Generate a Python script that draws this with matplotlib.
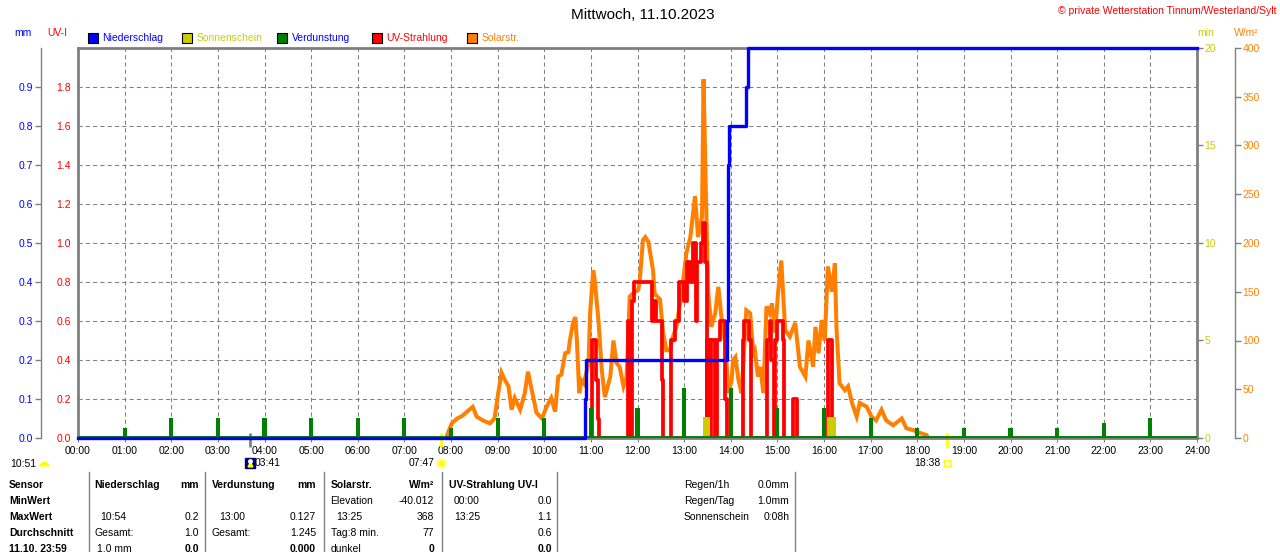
import matplotlib
matplotlib.use('Agg')
import matplotlib.pyplot as plt
from matplotlib.lines import Line2D
from matplotlib.ticker import MultipleLocator

plt.rcParams['font.family'] = ['Liberation Sans', 'DejaVu Sans']


def hrs(s):
    h, m = s.split(':')
    return int(h) + int(m) / 60


# Solarstrahlung in W/m2
solar_times = ['07:54', '07:56', '08:01', '08:08', '08:15', '08:22', '08:28', '08:33', '08:41', '08:50',
               '08:56', '09:00', '09:05', '09:09', '09:14', '09:18', '09:22', '09:29', '09:35', '09:39',
               '09:44', '09:50', '09:57', '10:03', '10:09', '10:14', '10:18', '10:22', '10:27', '10:31',
               '10:33', '10:37', '10:40', '10:42', '10:45', '10:48', '10:51', '10:57', '10:59', '11:03',
               '11:05', '11:10', '11:14', '11:18', '11:25', '11:29', '11:33', '11:37', '11:42', '11:46',
               '11:50', '11:55', '12:01', '12:03', '12:07', '12:10', '12:14', '12:20', '12:22', '12:29',
               '12:33', '12:37', '12:42', '12:44', '12:50', '12:57', '13:03', '13:08', '13:14', '13:18',
               '13:23', '13:25', '13:28', '13:31', '13:35', '13:40', '13:44', '13:48', '13:53', '13:57',
               '14:01', '14:03', '14:06', '14:10', '14:14', '14:20', '14:25', '14:29', '14:31', '14:35',
               '14:38', '14:42', '14:46', '14:50', '14:53', '14:57', '15:01', '15:05', '15:10', '15:16',
               '15:23', '15:29', '15:36', '15:40', '15:46', '15:49', '15:53', '15:57', '16:01', '16:05',
               '16:10', '16:14', '16:16', '16:20', '16:27', '16:31', '16:36', '16:42', '16:46', '16:55',
               '17:01', '17:07', '17:14', '17:20', '17:29', '17:40', '17:46', '17:55', '18:04', '18:12',
               '18:14']
solar_vals = [0, 5, 15, 20, 23, 28, 32, 22, 18, 15,
              20, 42, 67, 60, 53, 29, 41, 29, 46, 68,
              49, 26, 20, 32, 41, 27, 63, 65, 87, 88,
              100, 118, 124, 100, 46, 59, 56, 77, 128, 172,
              162, 118, 70, 42, 63, 100, 77, 73, 53, 63,
              145, 149, 152, 162, 203, 206, 201, 172, 148, 142,
              108, 90, 90, 100, 114, 150, 190, 206, 248, 206,
              227, 368, 251, 149, 114, 128, 155, 124, 97, 46,
              59, 80, 83, 59, 46, 131, 128, 87, 90, 63,
              73, 46, 135, 128, 138, 108, 150, 182, 111, 104,
              118, 73, 63, 100, 73, 114, 87, 121, 100, 176,
              150, 179, 114, 56, 49, 53, 36, 22, 36, 32,
              22, 18, 29, 18, 13, 20, 10, 8, 5, 3,
              0]

# UV-Strahlung (UV-I), stufenweise
uv_times = ['10:55', '11:01', '11:07', '11:09', '11:11',
            '11:48', '11:51', '11:53', '11:56', '12:19', '12:21', '12:24', '12:31', '12:33',
            '12:43', '12:48', '12:54', '13:00', '13:04', '13:08', '13:12', '13:15', '13:17', '13:22',
            '13:24', '13:27', '13:29',
            '13:30', '13:33', '13:35', '13:40', '13:42', '13:46', '13:52', '13:55',
            '14:16', '14:17', '14:23', '14:26',
            '14:47', '14:50', '14:52', '14:56', '14:57', '15:00', '15:07', '15:09',
            '15:20', '15:25', '16:05', '16:10']
uv_vals = [0, 0.5, 0.3, 0.1, 0,
           0.6, 0, 0.7, 0.8, 0.6, 0.7, 0.6, 0.3, 0,
           0.5, 0.6, 0.8, 0.7, 0.9, 0.8, 1.0, 0.6, 0.9, 1.0,
           1.1, 0.9, 0,
           0.5, 0, 0.5, 0, 0.5, 0.6, 0.2, 0,
           0.5, 0.6, 0.5, 0,
           0.5, 0.6, 0.4, 0, 0.5, 0.6, 0.5, 0,
           0.2, 0, 0.5, 0]

# Niederschlag (Tagessumme, mm)
rain_times = ['00:00', '10:52', '10:54', '13:55', '13:56', '13:57', '13:58', '14:20', '14:22', '24:00']
rain_vals = [0.0, 0.1, 0.2, 0.3, 0.5, 0.7, 0.8, 0.9, 1.0, 1.0]

# Verdunstung je Stunde (mm)
evap_hours = list(range(1, 24))
evap_vals = [0.026, 0.051, 0.051, 0.051, 0.051, 0.051, 0.051, 0.026, 0.051, 0.051,
             0.077, 0.077, 0.127, 0.127, 0.077, 0.077, 0.051, 0.026, 0.026, 0.026,
             0.026, 0.038, 0.051]

# Sonnenschein (min)
sun_start = ['13:24', '16:04']
sun_end = ['13:33', '16:15']
sun_vals = [1.1, 1.1]

moon_set = '10:51'
moon_rise = '03:41'
sunrise = '07:47'
sunset = '18:38'

BLUE = '#0000FF'
RED = '#FF0000'
ORANGE = '#FF8000'
GREEN = '#008000'
OLIVE = '#CCCC00'
GRAY = '#808080'

W, H = 1280, 552
fig = plt.figure(figsize=(W / 100, H / 100), dpi=100)


def fx(px):
    return px / W


def fy(py):
    return 1 - py / H


ax = fig.add_axes([fx(78), fy(438), 1119 / W, 390 / H])
ax_uv = ax.twinx()
ax_min = ax.twinx()
ax_mm = ax.twinx()

ax.set_xlim(0, 24)
ax.set_ylim(0, 400)
ax_uv.set_ylim(0, 2)
ax_min.set_ylim(0, 20)
ax_mm.set_ylim(0, 1)

for a in (ax, ax_uv, ax_min, ax_mm):
    for s in a.spines.values():
        s.set_visible(False)

# frame
for side in ('left', 'top', 'bottom'):
    ax.spines[side].set_visible(True)
    ax.spines[side].set_color(GRAY)
    ax.spines[side].set_linewidth(2)
ax_min.spines['right'].set_visible(True)
ax_min.spines['right'].set_color(GRAY)
ax_min.spines['right'].set_linewidth(2)

# W/m2 axis on far right
ax.yaxis.tick_right()
ax.spines['right'].set_visible(True)
ax.spines['right'].set_color(GRAY)
ax.spines['right'].set_linewidth(1)
ax.spines['right'].set_position(('axes', 1 + 38 / 1119))
ax.set_yticks(range(0, 401, 50))
ax.tick_params(axis='y', which='major', colors=GRAY, labelcolor=ORANGE, labelsize=7.5,
               length=4, width=1, pad=1.5)

# grid
ax.yaxis.remove_overlapping_locs = False
ax.yaxis.set_minor_locator(MultipleLocator(40))
ax.tick_params(axis='y', which='minor', length=0)
ax.grid(axis='y', which='minor', color=GRAY, lw=0.75, ls=(0, (4, 3)))
ax.grid(axis='x', which='major', color=GRAY, lw=0.75, ls=(0, (4, 3)))

ax.set_xticks(range(25))
ax.set_xticklabels([f'{h:02d}:00' for h in range(25)])
ax.tick_params(axis='x', colors=GRAY, labelcolor='black', labelsize=7.5, length=3, pad=2.5)

# UV-I axis, left of frame
ax_uv.yaxis.tick_left()
ax_uv.set_yticks([round(0.2 * i, 1) for i in range(10)])
ax_uv.set_yticklabels([f'{0.2 * i:.1f}' for i in range(10)])
ax_uv.tick_params(axis='y', length=0, labelcolor=RED, labelsize=7.5, pad=5)

# min axis on frame right
ax_min.yaxis.tick_right()
ax_min.set_yticks([0, 5, 10, 15, 20])
ax_min.tick_params(axis='y', colors=GRAY, labelcolor=OLIVE, labelsize=7.5, length=4, width=1, pad=1.5)

# mm axis, far left
ax_mm.yaxis.tick_left()
ax_mm.spines['left'].set_visible(True)
ax_mm.spines['left'].set_color(GRAY)
ax_mm.spines['left'].set_linewidth(1)
ax_mm.spines['left'].set_position(('axes', -37 / 1119))
ax_mm.set_yticks([round(0.1 * i, 1) for i in range(10)])
ax_mm.set_yticklabels([f'{0.1 * i:.1f}' for i in range(10)])
ax_mm.tick_params(axis='y', colors=GRAY, labelcolor=BLUE, labelsize=7.5, length=4, width=1, pad=1.5)

# data
ax.plot([hrs(t) for t in solar_times], solar_vals, color=ORANGE, lw=2.9, solid_joinstyle='miter')
ax_uv.step([hrs(t) for t in uv_times], uv_vals, where='post', color=RED, lw=2.7)
for s, e, v in zip(sun_start, sun_end, sun_vals):
    ax_min.bar(hrs(s), v, width=hrs(e) - hrs(s), align='edge', color=OLIVE, lw=0)
ax_mm.axhline(0, color=GREEN, lw=2.8)
ax_mm.bar(evap_hours, evap_vals, width=0.09, color=GREEN, lw=0)
ax_mm.step([hrs(t) for t in rain_times], rain_vals, where='post', color=BLUE, lw=2.4, clip_on=False)

# sun / moon events below the axis
for t, c in ((moon_rise, GRAY), (sunrise, '#FFFF00'), (sunset, '#FFFF00')):
    ax.plot([hrs(t)] * 2, [-0.023, 0.013], transform=ax.get_xaxis_transform(),
            clip_on=False, color=c, lw=2, solid_capstyle='butt')

xt = ax.get_xaxis_transform()
ax.plot([hrs(moon_rise)], [-0.064], marker='s', ms=6.5, color='#000080', transform=xt, clip_on=False)
ax.plot([hrs(moon_rise)], [-0.067], marker='^', ms=3.5, color='#FFFF00', transform=xt, clip_on=False)
ax.plot([hrs(moon_rise)], [-0.058], marker='o', ms=2.5, color='white', transform=xt, clip_on=False)
ax.annotate(moon_rise, xy=(hrs(moon_rise), 0), xycoords=xt, xytext=(5, -25),
            textcoords='offset pixels', ha='left', va='center', fontsize=7.5, annotation_clip=False)
ax.plot([hrs(sunrise)], [-0.064], marker='o', ms=6, color='#FFFF00', mec='#FFFF90', mew=1.5,
        transform=xt, clip_on=False)
ax.annotate(sunrise, xy=(hrs(sunrise), 0), xycoords=xt, xytext=(-6, -25),
            textcoords='offset pixels', ha='right', va='center', fontsize=7.5, annotation_clip=False)
ax.plot([hrs(sunset)], [-0.064], marker='s', ms=4, mfc='none', mec='#FFFF00', mew=1,
        transform=xt, clip_on=False)
ax.annotate(sunset, xy=(hrs(sunset), 0), xycoords=xt, xytext=(-6, -25),
            textcoords='offset pixels', ha='right', va='center', fontsize=7.5, annotation_clip=False)

fig.text(fx(10), fy(464), moon_set, ha='left', va='center', fontsize=7.5)
fig.add_artist(Line2D([fx(44)], [fy(466)], marker='o', ms=7, color='#FFFF00', fillstyle='top',
                      markerfacecoloralt='none', mec='none', transform=fig.transFigure))

# header
fig.text(fx(643), fy(15), 'Mittwoch, 11.10.2023', ha='center', va='center', fontsize=11)
fig.text(fx(1277), fy(11), '\u00a9 private Wetterstation Tinnum/Westerland/Sylt', ha='right',
         va='center', fontsize=7.5, color=RED)
fig.text(fx(14), fy(33), 'mm', ha='left', va='center', fontsize=7.5, color=BLUE)
fig.text(fx(47), fy(33), 'UV-I', ha='left', va='center', fontsize=7.5, color=RED)
fig.text(fx(1197), fy(33), 'min', ha='left', va='center', fontsize=7.5, color=OLIVE)
fig.text(fx(1234), fy(33), 'W/m\u00b2', ha='left', va='center', fontsize=7.5, color=ORANGE)

legend_items = [(92.5, BLUE, 'Niederschlag', BLUE), (187, OLIVE, 'Sonnenschein', OLIVE),
                (282, GREEN, 'Verdunstung', BLUE), (377, RED, 'UV-Strahlung', RED),
                (472, ORANGE, 'Solarstr.', ORANGE)]
for x, c, label, tc in legend_items:
    fig.add_artist(Line2D([fx(x)], [fy(38)], marker='s', ms=6.5, mfc=c, mec='black', mew=0.8,
                          transform=fig.transFigure))
    fig.text(fx(x + 9.5), fy(38), label, ha='left', va='center', fontsize=7.5, color=tc)

# table below
for x in (88.6, 205.3, 323.7, 441.6, 557, 795):
    fig.add_artist(Line2D([fx(x), fx(x)], [fy(472), fy(552)], color=GRAY, lw=1,
                          transform=fig.transFigure))

rows = [485, 501, 517, 533, 548.5]
table = [
    (9, 0, 'Sensor', 'left', True), (9, 1, 'MinWert', 'left', True), (9, 2, 'MaxWert', 'left', True),
    (9, 3, 'Durchschnitt', 'left', True), (9, 4, '11.10. 23:59', 'left', True),
    (94.7, 0, 'Niederschlag', 'left', True), (198.8, 0, 'mm', 'right', True),
    (100, 2, '10:54', 'left', False), (198.8, 2, '0.2', 'right', False),
    (94.7, 3, 'Gesamt:', 'left', False), (198.8, 3, '1.0', 'right', False),
    (96.7, 4, '1.0 mm', 'left', False), (198.8, 4, '0.0', 'right', True),
    (212, 0, 'Verdunstung', 'left', True), (316, 0, 'mm', 'right', True),
    (219, 2, '13:00', 'left', False), (316, 2, '0.127', 'right', False),
    (212, 3, 'Gesamt:', 'left', False), (316, 3, '1.245', 'right', False),
    (316, 4, '0.000', 'right', True),
    (330.6, 0, 'Solarstr.', 'left', True), (434, 0, 'W/m\u00b2', 'right', True),
    (330.6, 1, 'Elevation', 'left', False), (434, 1, '-40.012', 'right', False),
    (336.7, 2, '13:25', 'left', False), (434, 2, '368', 'right', False),
    (330.6, 3, 'Tag:8 min.', 'left', False), (434, 3, '77', 'right', False),
    (330.6, 4, 'dunkel', 'left', False), (434, 4, '0', 'right', True),
    (449, 0, 'UV-Strahlung UV-I', 'left', True),
    (454, 1, '00:00', 'left', False), (552, 1, '0.0', 'right', False),
    (454, 2, '13:25', 'left', False), (552, 2, '1.1', 'right', False),
    (552, 3, '0.6', 'right', False), (552, 4, '0.0', 'right', True),
    (684, 0, 'Regen/1h', 'left', False), (789.4, 0, '0.0mm', 'right', False),
    (684, 1, 'Regen/Tag', 'left', False), (789.4, 1, '1.0mm', 'right', False),
    (684, 2, 'Sonnenschein', 'left', False), (789.4, 2, '0:08h', 'right', False),
]
for x, r, txt, ha, bold in table:
    fig.text(fx(x), fy(rows[r]), txt, ha=ha, va='center', fontsize=7.5,
             fontweight='bold' if bold else 'normal')

fig.savefig('out.png', dpi=100, facecolor='white')
